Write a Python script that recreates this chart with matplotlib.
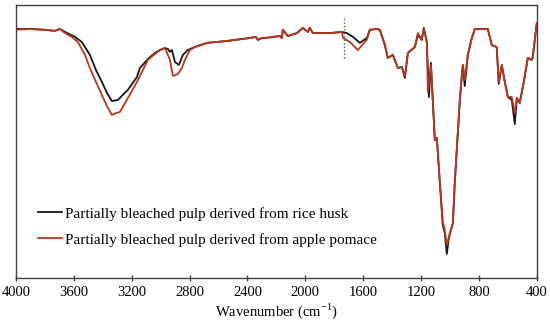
import matplotlib
matplotlib.use('Agg')
import matplotlib.pyplot as plt

# FTIR spectra (arbitrary transmittance units)
wn_rice = [4000, 3903, 3800, 3731, 3696, 3661, 3592, 3544, 3489, 3447,
           3406, 3371, 3337, 3295, 3268, 3226, 3164, 3143, 3088,
           3040, 3005, 2970, 2950, 2936, 2922, 2901, 2874, 2846, 2812,
           2763, 2680, 2542, 2383, 2342, 2328, 2300, 2279, 2176, 2162,
           2155, 2121, 2058, 2017, 1982, 1969, 1948, 1830, 1747, 1713,
           1671, 1623, 1575, 1554, 1506, 1485, 1450, 1430, 1395, 1360,
           1333, 1312, 1291, 1243, 1222, 1195, 1181, 1160, 1146, 1132,
           1119, 1105, 1091, 1070, 1050, 1036, 1022, 1008, 994, 980,
           967, 946, 932, 918, 911, 898, 877, 849, 828, 794,
           739, 711, 677, 663, 642, 621, 600, 573, 552, 538,
           518, 490, 462, 435, 428, 400]
t_rice = [91.2, 91.2, 90.9, 90.5, 91.2, 90.1, 88.3, 86.4, 81.7, 76.2,
          71.8, 67.8, 64.8, 65.2, 66.7, 68.9, 73.6, 76.9, 80.2,
          82.4, 83.5, 84.2, 83.9, 82.8, 83.5, 79.1, 78.0, 81.7, 83.5,
          84.6, 86.1, 86.8, 87.9, 88.3, 87.2, 87.9, 87.9, 88.6, 87.9,
          90.9, 88.6, 89.7, 91.6, 90.1, 91.6, 89.7, 89.7, 90.1, 89.7,
          88.3, 86.1, 87.9, 90.9, 91.2, 90.9, 85.3, 80.6, 81.7, 76.9,
          77.3, 73.3, 82.4, 84.6, 89.0, 87.2, 91.6, 86.4, 66.3, 78.8,
          65.2, 50.5, 51.3, 34.8, 19.4, 16.5, 8.8, 14.7, 17.6, 20.1,
          34.8, 53.1, 65.2, 74.4, 78.0, 70.3, 81.7, 87.9, 91.2, 91.2,
          91.2, 85.3, 84.6, 71.1, 78.0, 71.8, 66.3, 65.2, 56.4, 65.9,
          64.1, 71.8, 80.6, 79.9, 80.9, 93.4]

wn_apple = [4000, 3903, 3800, 3731, 3696, 3661, 3613, 3572, 3523, 3489,
            3447, 3406, 3371, 3337, 3309, 3281, 3226, 3164, 3088, 3040,
            3005, 2970, 2936, 2915, 2881, 2853, 2832, 2798, 2763, 2680,
            2542, 2383, 2342, 2328, 2300, 2279, 2176, 2162, 2155, 2121,
            2058, 2017, 1982, 1969, 1948, 1830, 1747, 1740, 1692, 1637,
            1575, 1554, 1506, 1485, 1450, 1430, 1395, 1360, 1333, 1312,
            1291, 1243, 1222, 1195, 1181, 1160, 1153, 1132, 1119, 1105,
            1091, 1070, 1050, 1036, 1022, 1008, 994, 980, 967, 946,
            932, 918, 911, 898, 877, 849, 828, 794, 739, 711,
            677, 663, 642, 621, 600, 573, 552, 538, 518, 490,
            462, 435, 428, 400]
t_apple = [90.9, 91.2, 90.9, 90.5, 91.2, 89.7, 88.3, 86.4, 81.7, 76.9,
           71.8, 67.0, 63.0, 59.7, 60.4, 60.8, 65.9, 71.8, 79.9, 82.0,
           83.5, 84.2, 79.9, 74.0, 74.7, 76.9, 79.9, 83.5, 84.6, 86.1,
           86.8, 87.9, 88.3, 87.2, 87.9, 87.9, 88.6, 87.9, 90.9, 88.6,
           89.7, 91.6, 90.1, 91.6, 89.7, 89.7, 90.1, 87.9, 86.4, 83.5,
           87.2, 90.9, 91.2, 90.9, 85.3, 80.6, 81.7, 76.9, 77.3, 74.0,
           82.4, 84.6, 89.7, 87.2, 91.2, 86.4, 68.1, 78.0, 65.2, 50.5,
           51.3, 34.8, 20.5, 17.6, 12.1, 14.7, 17.6, 20.1, 34.8, 53.1,
           65.2, 74.4, 78.0, 72.5, 81.7, 87.9, 91.2, 91.2, 91.2, 85.3,
           84.6, 71.8, 78.0, 71.8, 66.3, 66.3, 60.4, 65.9, 64.1, 71.8,
           80.6, 79.9, 80.9, 93.4]

label_rice = 'Partially bleached pulp derived from rice husk'
label_apple = 'Partially bleached pulp derived from apple pomace'
xticks = [4000, 3600, 3200, 2800, 2400, 2000, 1600, 1200, 800, 400]
marker_wn = 1734

plt.rcParams['font.family'] = ['Liberation Serif', 'DejaVu Serif']
plt.rcParams['mathtext.fontset'] = 'custom'
plt.rcParams['mathtext.rm'] = 'Liberation Serif'

fig = plt.figure(figsize=(5.5, 3.29), dpi=100)
ax = fig.add_axes([0.029, 0.155, 0.947, 0.830])

ax.plot(wn_rice, t_rice, color='#151515', lw=1.3, label=label_rice)
ax.plot(wn_apple, t_apple, color='#b8361e', lw=1.3, label=label_apple)
ax.vlines(marker_wn, 80.6, 95.2, colors='#555555', linestyles=(0, (1, 1.5)), lw=1)

ax.set_xlim(4000, 400)
ax.set_ylim(0, 100)
ax.set_xticks(xticks)
ax.set_yticks([])
ax.tick_params(axis='x', direction='inout', length=5, width=1, color='#404040',
               labelsize=10.5, pad=3)
for s in ax.spines.values():
    s.set_color('#404040')
    s.set_linewidth(1)
ax.set_xlabel(r'Wavenumber (cm$^{\mathregular{-1}}$)', fontsize=10.5, labelpad=2)

ax.legend(loc='center left', bbox_to_anchor=(0.042, 0.187), frameon=False,
          fontsize=11, borderpad=0, borderaxespad=0, handlelength=1.6,
          handletextpad=0.15, labelspacing=0.8)

fig.savefig('out.png', dpi=100)
